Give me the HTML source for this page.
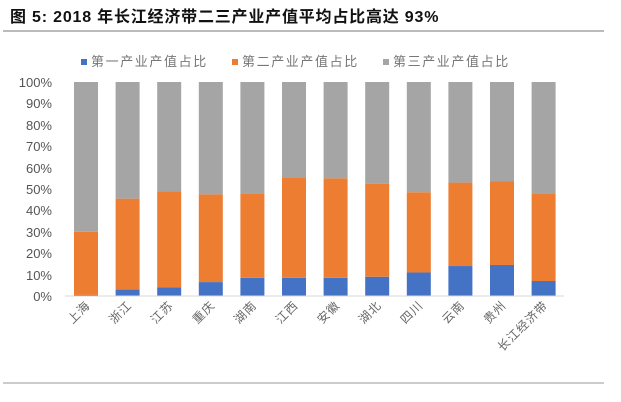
<!DOCTYPE html>
<html><head><meta charset="utf-8"><style>
body{margin:0;background:#fff;}
svg{display:block;font-family:"Liberation Sans","Noto Sans CJK SC",sans-serif;}
</style></head><body>
<svg width="621" height="402" viewBox="0 0 621 402" xmlns="http://www.w3.org/2000/svg">
<text x="10" y="22" font-size="16" font-weight="bold" fill="#111" letter-spacing="0.8">图 5:  2018 年长江经济带二三产业产值平均占比高达 93%</text>
<line x1="3" y1="31" x2="604" y2="31" stroke="#777" stroke-width="1"/>
<g font-size="13" fill="#777" letter-spacing="1.6">
<rect x="81" y="59" width="6" height="6" fill="#4472C4"/><text x="91" y="66">第一产业产值占比</text>
<rect x="232" y="59" width="6" height="6" fill="#ED7D31"/><text x="242" y="66">第二产业产值占比</text>
<rect x="383" y="59" width="6" height="6" fill="#A5A5A5"/><text x="393" y="66">第三产业产值占比</text>
</g>
<g font-size="13" fill="#555" text-anchor="end">
<text x="52" y="87">100%</text><text x="52" y="108">90%</text><text x="52" y="130">80%</text><text x="52" y="151">70%</text><text x="52" y="173">60%</text><text x="52" y="194">50%</text><text x="52" y="215">40%</text><text x="52" y="237">30%</text><text x="52" y="258">20%</text><text x="52" y="280">10%</text><text x="52" y="301">0%</text>
</g>
<g id="bars"></g>
<line x1="65" y1="296" x2="564" y2="296" stroke="#d9d9d9" stroke-width="1"/>
<g id="labels" font-size="12" fill="#666"></g>
<line x1="3" y1="383" x2="604" y2="383" stroke="#999" stroke-width="1"/>
<script>
var d=[["上海",0.5,30],["浙江",3,45.5],["江苏",4,49],["重庆",6.5,47.5],["湖南",8.5,48],["江西",8.5,55.5],["安徽",8.5,55],["湖北",9,52.5],["四川",11,48.5],["云南",14,53],["贵州",14.5,53.5],["长江经济带",7,48]];
var ns="http://www.w3.org/2000/svg",b=document.getElementById("bars"),l=document.getElementById("labels");
function r(x,y0,y1,c){var e=document.createElementNS(ns,"rect");var Y0=296-y1*2.14,Y1=296-y0*2.14;e.setAttribute("x",x);e.setAttribute("y",Y0);e.setAttribute("width",24);e.setAttribute("height",Y1-Y0);e.setAttribute("fill",c);b.appendChild(e);}
d.forEach(function(v,i){var x=74+i*41.6;r(x,0,v[1],"#4472C4");r(x,v[1],v[2],"#ED7D31");r(x,v[2],100,"#A5A5A5");
var t=document.createElementNS(ns,"text");var cx=x+17,cy=306;t.setAttribute("x",cx);t.setAttribute("y",cy);t.setAttribute("text-anchor","end");t.setAttribute("letter-spacing","1");t.setAttribute("transform","rotate(-45 "+cx+" "+cy+")");t.textContent=v[0];l.appendChild(t);});
</script>
</svg>
</body></html>
